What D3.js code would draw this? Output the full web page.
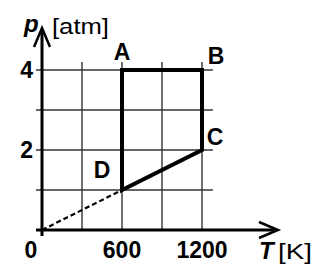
<!DOCTYPE html>
<html>
<head>
<meta charset="utf-8">
<script src="https://cdn.jsdelivr.net/npm/d3@7"></script>
<style>
  html, body { margin: 0; padding: 0; background: #fff; }
  svg { display: block; }
  text { font-family: "Liberation Sans", Arial, sans-serif; fill: #000; }
</style>
</head>
<body>
<svg id="chart"></svg>
<script>
// cycle A -> B -> C -> D
const stateLabels = ["A", "B", "C", "D"];
const stateT = [600, 1200, 1200, 600];
const stateP = [4, 4, 2, 1];

const gridT = [300, 600, 900, 1200];
const gridP = [1, 2, 3, 4];
const tTickLabels = [0, 600, 1200];
const pTickLabels = [2, 4];

const width = 327;
const height = 267;

const svg = d3.select("#chart")
  .attr("width", width)
  .attr("height", height);

svg.append("rect").attr("width", width).attr("height", height).attr("fill", "#fff");

const x = d3.scaleLinear().domain([0, 1200]).range([42, 202]);
const y = d3.scaleLinear().domain([0, 4]).range([230, 70]);

// grid
svg.append("g").selectAll("line")
  .data(gridT)
  .join("line")
  .attr("x1", d => x(d)).attr("x2", d => x(d))
  .attr("y1", y(0)).attr("y2", y(4.2))
  .attr("stroke", "#333").attr("stroke-width", 1.4);

svg.append("g").selectAll("line")
  .data(gridP)
  .join("line")
  .attr("x1", x(-45)).attr("x2", x(1282))
  .attr("y1", d => y(d)).attr("y2", d => y(d))
  .attr("stroke", "#333").attr("stroke-width", 1.4);

// axes with arrows
const axes = svg.append("g").attr("stroke", "#000").attr("fill", "none");
axes.append("line")
  .attr("x1", x(-45)).attr("x2", x(1760))
  .attr("y1", y(0)).attr("y2", y(0))
  .attr("stroke-width", 3);
axes.append("line")
  .attr("x1", x(0)).attr("x2", x(0))
  .attr("y1", y(-0.15)).attr("y2", y(5))
  .attr("stroke-width", 3);

const xTip = [x(1770), y(0)];
axes.append("path")
  .attr("d", `M${xTip[0] - 19},${xTip[1] - 8} L${xTip[0]},${xTip[1]} L${xTip[0] - 19},${xTip[1] + 8}`)
  .attr("stroke-width", 2.5).attr("stroke-linejoin", "miter");
const yTip = [x(0), y(5.05)];
axes.append("path")
  .attr("d", `M${yTip[0] - 8},${yTip[1] + 19} L${yTip[0]},${yTip[1]} L${yTip[0] + 8},${yTip[1] + 19}`)
  .attr("stroke-width", 2.5).attr("stroke-linejoin", "miter");

// dashed extension to origin
svg.append("line")
  .attr("x1", x(0)).attr("y1", y(0))
  .attr("x2", x(stateT[3])).attr("y2", y(stateP[3]))
  .attr("stroke", "#000").attr("stroke-width", 2.2)
  .attr("stroke-dasharray", "5,3");

// cycle
const line = d3.line().x(d => x(d[0])).y(d => y(d[1]));
svg.append("path")
  .attr("d", line(stateT.map((t, i) => [t, stateP[i]])) + "Z")
  .attr("fill", "none").attr("stroke", "#000")
  .attr("stroke-width", 4).attr("stroke-linejoin", "miter");

// state labels
const labelOffset = { A: [0, -10], B: [14, -6], C: [13, -5], D: [-20, -12] };
svg.append("g").selectAll("text")
  .data(stateLabels)
  .join("text")
  .attr("x", (d, i) => x(stateT[i]) + labelOffset[d][0])
  .attr("y", (d, i) => y(stateP[i]) + labelOffset[d][1])
  .attr("text-anchor", "middle")
  .attr("font-size", 23).attr("font-weight", "bold")
  .text(d => d);

// tick labels
svg.append("g").selectAll("text")
  .data(tTickLabels)
  .join("text")
  .attr("x", d => d === 0 ? x(d) - 11 : x(d))
  .attr("y", 258)
  .attr("text-anchor", "middle")
  .attr("font-size", 23).attr("font-weight", "bold")
  .text(d => d);

svg.append("g").selectAll("text")
  .data(pTickLabels)
  .join("text")
  .attr("x", 33)
  .attr("y", d => y(d) + 8)
  .attr("text-anchor", "end")
  .attr("font-size", 23).attr("font-weight", "bold")
  .text(d => d);

// axis titles
svg.append("text")
  .attr("x", 24).attr("y", 32)
  .attr("font-size", 24).attr("font-weight", "bold").attr("font-style", "italic")
  .text("p");
svg.append("text")
  .attr("x", 52).attr("y", 34)
  .attr("font-size", 22)
  .attr("textLength", 57).attr("lengthAdjust", "spacingAndGlyphs")
  .text("[atm]");
svg.append("text")
  .attr("x", 259).attr("y", 259)
  .attr("font-size", 24).attr("font-weight", "bold").attr("font-style", "italic")
  .text("T");
svg.append("text")
  .attr("x", 278).attr("y", 259)
  .attr("font-size", 22)
  .attr("textLength", 34).attr("lengthAdjust", "spacingAndGlyphs")
  .text("[K]");
</script>
</body>
</html>
